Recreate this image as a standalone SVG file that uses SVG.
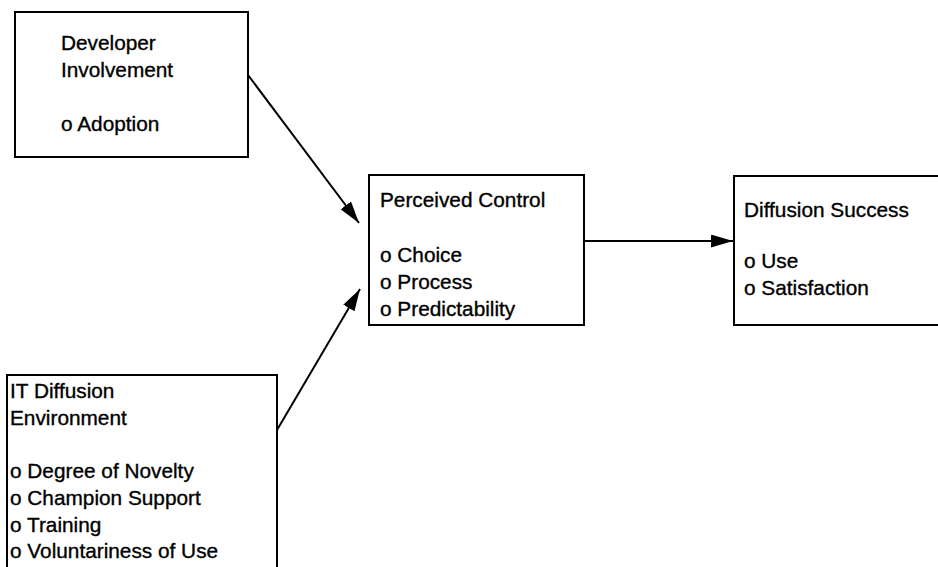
<svg xmlns="http://www.w3.org/2000/svg" width="938" height="567" viewBox="0 0 938 567">
<style>
.box{fill:#fff;stroke:#000;stroke-width:2}
.t{font-family:"Liberation Sans",Arial,sans-serif;font-size:20.8px;fill:#000;stroke:#000;stroke-width:0.35}
.c{stroke:#000;stroke-width:2;fill:none}
</style>
<defs>
<marker id="ah" markerUnits="userSpaceOnUse" markerWidth="24" markerHeight="14" refX="22" refY="6.5" orient="auto">
<path d="M0,0 L22,6.5 L0,13 z" fill="#000"/>
</marker>
</defs>
<rect width="938" height="567" fill="#fff"/>
<g id="developer-involvement">
<rect class="box" x="15" y="12" width="233" height="145"/>
<text class="t" x="61" y="50">Developer</text>
<text class="t" x="61" y="77">Involvement</text>
<text class="t" x="61" y="131">o Adoption</text>
</g>
<g id="perceived-control">
<rect class="box" x="369" y="175" width="215" height="150"/>
<text class="t" x="380" y="207">Perceived Control</text>
<text class="t" x="380" y="262">o Choice</text>
<text class="t" x="380" y="289">o Process</text>
<text class="t" x="380" y="316">o Predictability</text>
</g>
<g id="diffusion-success">
<rect class="box" x="734" y="176" width="210" height="149"/>
<text class="t" x="744" y="217">Diffusion Success</text>
<text class="t" x="744" y="268">o Use</text>
<text class="t" x="744" y="295">o Satisfaction</text>
</g>
<g id="it-diffusion-environment">
<rect class="box" x="7" y="375" width="270" height="200"/>
<text class="t" x="10" y="398">IT Diffusion</text>
<text class="t" x="10" y="425">Environment</text>
<text class="t" x="10" y="478">o Degree of Novelty</text>
<text class="t" x="10" y="505">o Champion Support</text>
<text class="t" x="10" y="532">o Training</text>
<text class="t" x="10" y="558">o Voluntariness of Use</text>
</g>
<g id="connectors">
<line class="c" x1="248" y1="75" x2="359" y2="223" marker-end="url(#ah)"/>
<line class="c" x1="277" y1="430" x2="360" y2="289" marker-end="url(#ah)"/>
<line class="c" x1="584" y1="241" x2="733" y2="241" marker-end="url(#ah)"/>
</g>
</svg>
